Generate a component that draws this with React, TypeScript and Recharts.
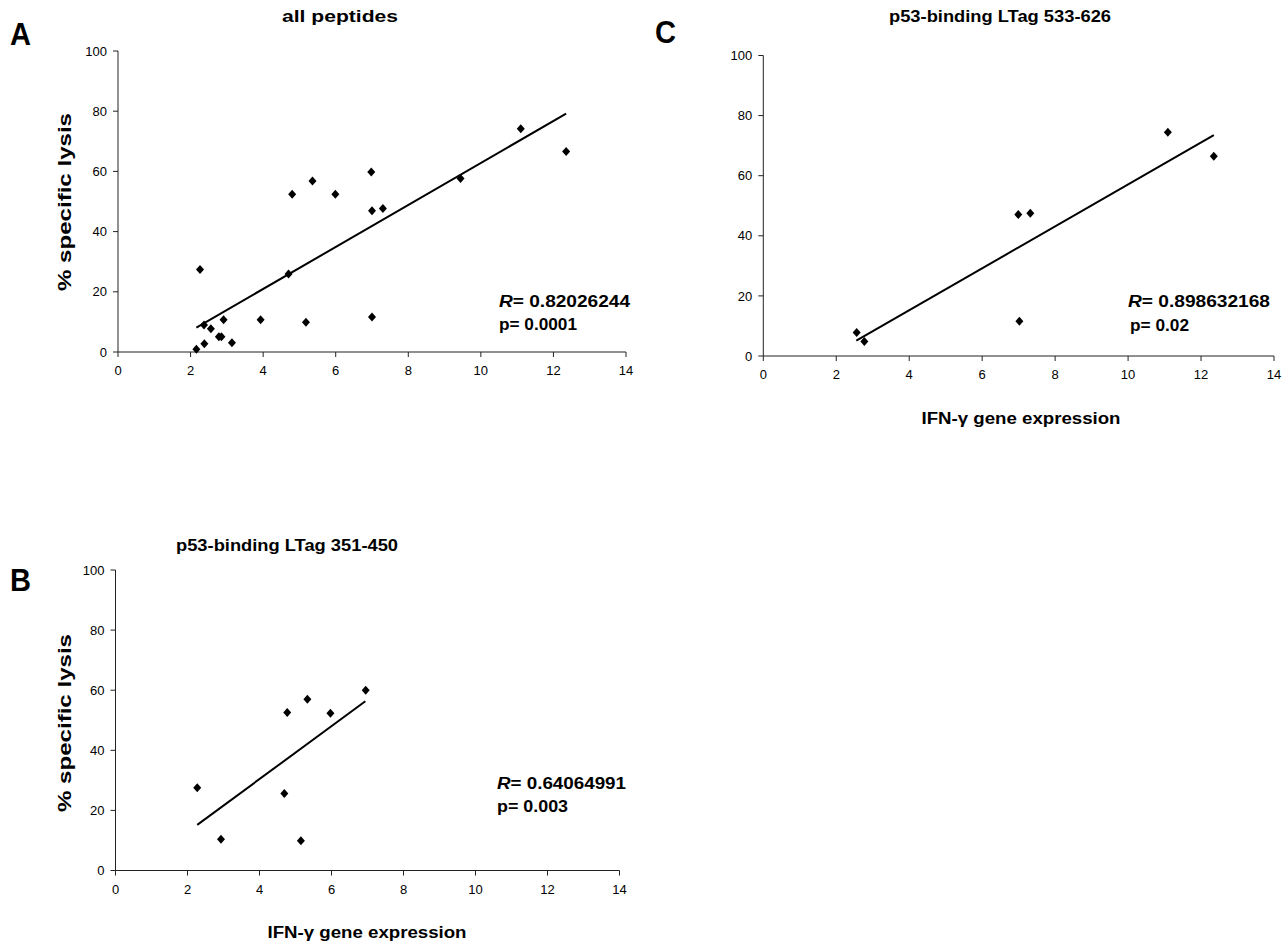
import React from 'react';
import { ScatterChart, Scatter, XAxis, YAxis } from 'recharts';

// ---- data ----
const xTicks = [0, 2, 4, 6, 8, 10, 12, 14];
const yTicks = [0, 20, 40, 60, 80, 100];

// A: all peptides
const allX = [2.26, 4.8, 5.36, 5.99, 6.98, 7.0, 7.3, 4.7, 2.37, 2.56, 2.91, 2.78, 2.85, 2.38, 2.16, 3.14, 3.93, 5.18, 7.0, 11.1, 12.35, 9.44];
const allY = [27.4, 52.4, 56.8, 52.4, 59.8, 46.9, 47.7, 25.9, 9.0, 7.7, 10.7, 5.1, 5.1, 2.7, 0.9, 3.1, 10.7, 9.9, 11.6, 74.2, 66.6, 57.6];
const allTrendX = [2.16, 12.35];
const allTrendY = [8.1, 79.2];

// B: p53-binding LTag 351-450
const b351X = [2.27, 2.93, 4.77, 5.33, 5.97, 6.95, 4.69, 5.15];
const b351Y = [27.5, 10.4, 52.6, 57.0, 52.3, 60.0, 25.6, 9.9];
const b351TrendX = [2.27, 6.94];
const b351TrendY = [15.2, 56.3];

// C: p53-binding LTag 533-626
const b533X = [2.56, 2.77, 6.99, 7.32, 7.02, 11.09, 12.35];
const b533Y = [7.8, 4.8, 47.1, 47.5, 11.6, 74.5, 66.5];
const b533TrendX = [2.55, 12.35];
const b533TrendY = [5.1, 73.5];

const FONT = '"Liberation Sans", Arial, sans-serif';

const toPts = (xs: number[], ys: number[]) => xs.map((x, i) => ({ x, y: ys[i] }));

const Diamond = (props: any) => {
  const { cx, cy } = props;
  if (cx == null || cy == null) return <g />;
  return (
    <polygon
      points={`${cx},${cy - 4.5} ${cx + 4},${cy} ${cx},${cy + 4.5} ${cx - 4},${cy}`}
      fill="#000"
    />
  );
};

const Empty = () => <g />;

type PanelProps = {
  L: number; T: number; W: number; H: number;
  pl: number; pt: number; pr: number; pb: number;
  xs: number[]; ys: number[]; tx: number[]; ty: number[];
};

const Panel = ({ L, T, W, H, pl, pt, pr, pb, xs, ys, tx, ty }: PanelProps) => {
  const tick = { fill: '#000', fontSize: 13, fontFamily: FONT };
  return (
    <div style={{ position: 'absolute', left: L, top: T }}>
      <ScatterChart
        width={W}
        height={H}
        margin={{ top: pt - T, right: L + W - pr, left: 0, bottom: 0 }}
      >
        <XAxis
          type="number"
          dataKey="x"
          domain={[0, 14]}
          ticks={xTicks}
          interval={0}
          height={T + H - pb}
          stroke="#222"
          tickSize={5}
          tickMargin={9}
          tick={tick}
          tickLine={{ stroke: '#222' }}
        />
        <YAxis
          type="number"
          dataKey="y"
          domain={[0, 100]}
          ticks={yTicks}
          interval={0}
          width={pl - L}
          stroke="#222"
          tickSize={5}
          tickMargin={6}
          tick={tick}
          tickLine={{ stroke: '#222' }}
        />
        <Scatter
          data={toPts(tx, ty)}
          line={{ stroke: '#000', strokeWidth: 2 }}
          shape={Empty}
          isAnimationActive={false}
        />
        <Scatter data={toPts(xs, ys)} shape={Diamond} isAnimationActive={false} />
      </ScatterChart>
    </div>
  );
};

const T = (p: any) => (
  <text
    fontFamily={FONT}
    fontWeight="bold"
    fill="#000"
    lengthAdjust="spacingAndGlyphs"
    {...p}
  />
);

const RText = ({ x, y, value, len }: { x: number; y: number; value: string; len: number }) => (
  <T x={x} y={y} fontSize={16} textLength={len}>
    <tspan fontStyle="italic">R</tspan>
    <tspan>{'= ' + value}</tspan>
  </T>
);

export default function App() {
  return (
    <div style={{ position: 'absolute', left: 0, top: 0, width: 1284, height: 945, background: '#fff' }}>
      <Panel L={0} T={0} W={640} H={395} pl={118} pt={51} pr={626} pb={352}
        xs={allX} ys={allY} tx={allTrendX} ty={allTrendY} />
      <Panel L={0} T={520} W={640} H={395} pl={115.5} pt={570} pr={619.5} pb={870.5}
        xs={b351X} ys={b351Y} tx={b351TrendX} ty={b351TrendY} />
      <Panel L={645} T={0} W={639} H={395} pl={763.3} pt={55.5} pr={1274} pb={356}
        xs={b533X} ys={b533Y} tx={b533TrendX} ty={b533TrendY} />
      <svg width={1284} height={945} style={{ position: 'absolute', left: 0, top: 0, pointerEvents: 'none' }}>
        {/* panel letters */}
        <T x={10} y={45} fontSize={31} textLength={21}>A</T>
        <T x={10} y={591} fontSize={31} textLength={21}>B</T>
        <T x={655} y={43} fontSize={31} textLength={21}>C</T>
        {/* titles */}
        <T x={340} y={22} fontSize={16} textAnchor="middle" textLength={116}>all peptides</T>
        <T x={287} y={551} fontSize={16} textAnchor="middle" textLength={222}>p53-binding LTag 351-450</T>
        <T x={1000} y={22} fontSize={16} textAnchor="middle" textLength={222}>p53-binding LTag 533-626</T>
        {/* y titles */}
        <T x={0} y={0} fontSize={19} textAnchor="middle" textLength={178}
          transform="translate(71,202) rotate(-90)">% specific lysis</T>
        <T x={0} y={0} fontSize={19} textAnchor="middle" textLength={178}
          transform="translate(71,723) rotate(-90)">% specific lysis</T>
        {/* x titles */}
        <T x={1021} y={424} fontSize={16} textAnchor="middle" textLength={199}>IFN-γ gene expression</T>
        <T x={367} y={938} fontSize={16} textAnchor="middle" textLength={199}>IFN-γ gene expression</T>
        {/* statistics */}
        <RText x={499} y={307} value="0.82026244" len={131} />
        <T x={499} y={330} fontSize={16} textLength={78}>p=  0.0001</T>
        <RText x={497} y={789} value="0.64064991" len={129} />
        <T x={497} y={812} fontSize={16} textLength={71}>p=  0.003</T>
        <RText x={1128} y={307} value="0.898632168" len={142} />
        <T x={1130} y={331} fontSize={16} textLength={59}>p=  0.02</T>
      </svg>
    </div>
  );
}
